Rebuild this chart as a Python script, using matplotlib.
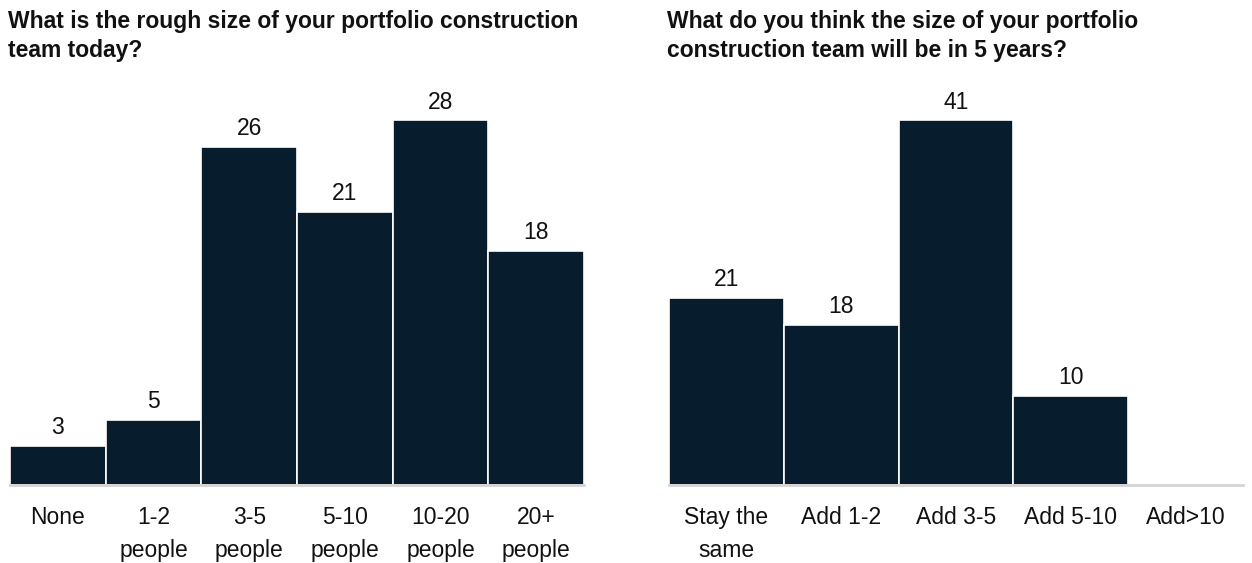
import matplotlib.pyplot as plt

plt.rcParams['font.family'] = ['Liberation Sans', 'DejaVu Sans']

# team size today
today_labels = ['None', '1-2\npeople', '3-5\npeople', '5-10\npeople', '10-20\npeople', '20+\npeople']
today_values = [3, 5, 26, 21, 28, 18]

# team size in 5 years
future_labels = ['Stay the\nsame', 'Add 1-2', 'Add 3-5', 'Add 5-10', 'Add>10']
future_values = [21, 18, 41, 10, None]

bar_color = '#071d2d'
text_color = '#111111'

W, H = 1252, 563
fig = plt.figure(figsize=(W / 100, H / 100), dpi=100)


def panel(x0, x1, title, labels, values):
    bottom, top = 485, 120.5
    ax = fig.add_axes([x0 / W, (H - bottom) / H, (x1 - x0) / W, (bottom - top) / H])
    xs = list(range(len(labels)))
    vals = [v if v is not None else 0 for v in values]
    ax.bar(xs, vals, width=1.0, color=bar_color, edgecolor='white', linewidth=1.2)
    for x, v in zip(xs, values):
        if v is None:
            continue
        ax.annotate(str(v), (x, v), xytext=(0, 5), textcoords='offset points',
                    ha='center', va='bottom', fontsize=16.5, color=text_color)
    ax.set_xlim(-0.5, len(labels) - 0.5)
    ax.set_ylim(0, max(vals))
    ax.set_xticks(xs)
    ax.set_xticklabels(labels, fontsize=16.5, color=text_color, linespacing=1.55)
    ax.tick_params(axis='x', length=0, pad=15)
    ax.set_yticks([])
    for s in ['top', 'left', 'right']:
        ax.spines[s].set_visible(False)
    ax.spines['bottom'].set_color('#d4d4d4')
    ax.spines['bottom'].set_linewidth(2)
    fig.text((x0 - 2) / W, 1 - 10 / H, title, ha='left', va='top',
             fontsize=16.5, fontweight='bold', color=text_color, linespacing=1.35)
    return ax


panel(10, 584, 'What is the rough size of your portfolio construction\nteam today?',
      today_labels, today_values)
panel(669, 1243, 'What do you think the size of your portfolio\nconstruction team will be in 5 years?',
      future_labels, future_values)

fig.savefig('out.png', dpi=100, facecolor='white')
